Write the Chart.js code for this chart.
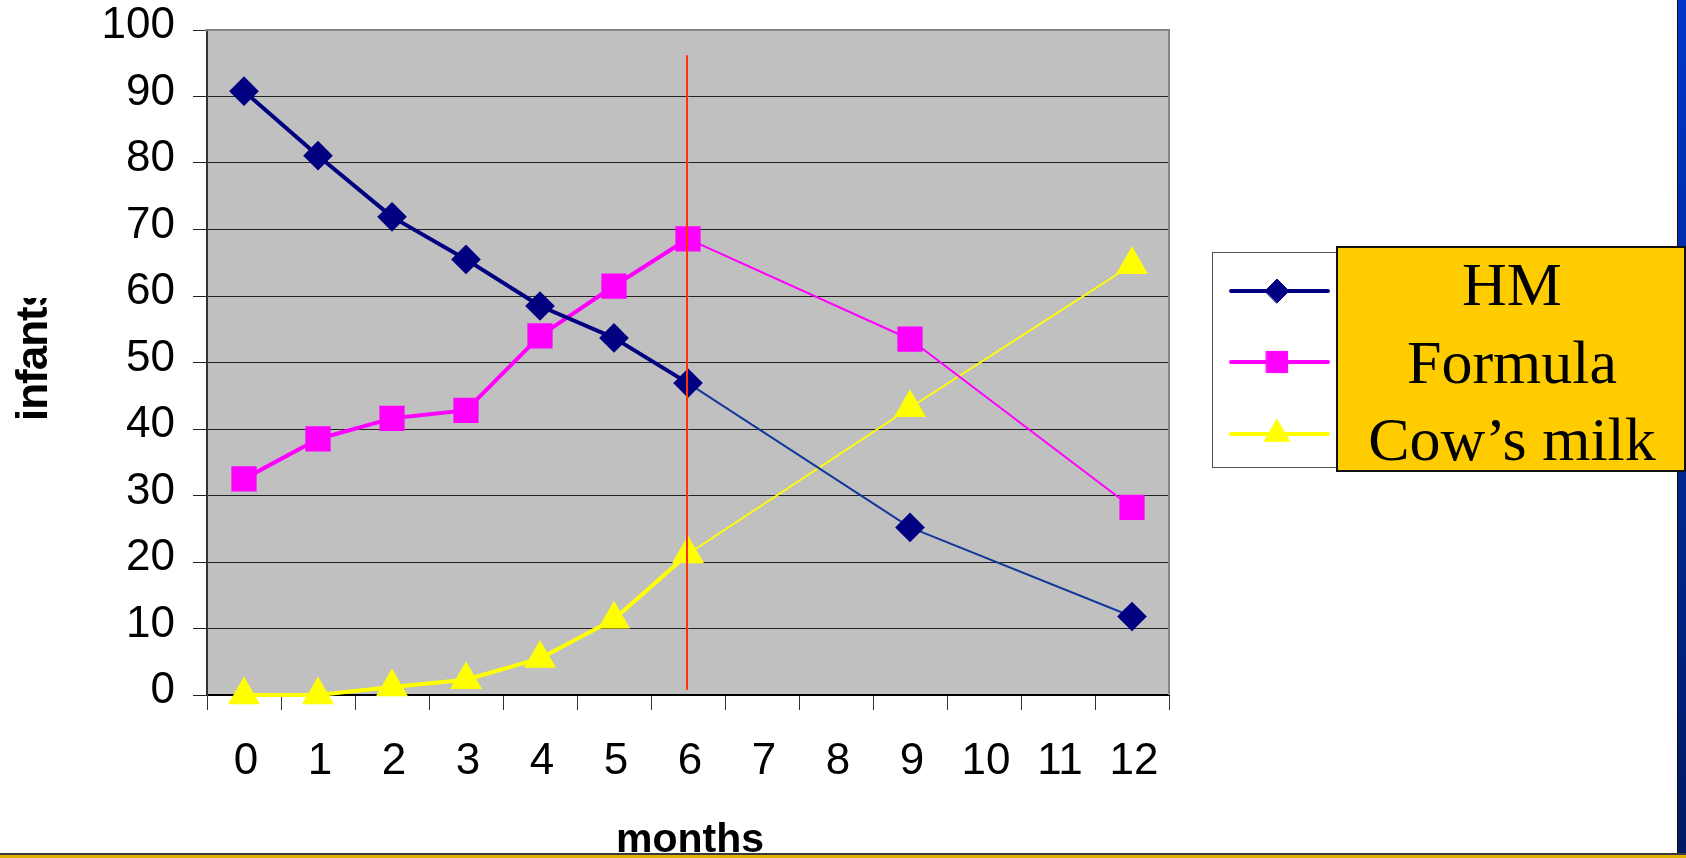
<!DOCTYPE html>
<html>
<head>
<meta charset="utf-8">
<script src="https://cdn.jsdelivr.net/npm/chart.js@4.4.1/dist/chart.umd.min.js"></script>
<style>
  html, body { margin: 0; padding: 0; background: #fff; overflow: hidden; }
  #wrap { position: relative; width: 1686px; height: 858px; }
  #bar { position: absolute; left: 1677px; top: 0; width: 9px; height: 858px;
         background: linear-gradient(#0036c8, #001a64); border-left: 1px solid #111; box-sizing: border-box; }
  #base { position: absolute; left: 0; top: 853px; width: 1686px; height: 5px;
          background: linear-gradient(#3a3a3a 0, #3a3a3a 2px, #e2b000 2px); }
  canvas { position: absolute; left: 0; top: 0; }
</style>
</head>
<body>
<div id="wrap">
  <div id="bar"></div>
  <div id="base"></div>
  <canvas id="c" width="1686" height="858"></canvas>
</div>
<script>
// Feeding type by infant age (months); months with no survey point are null
const months = ['0', '1', '2', '3', '4', '5', '6', '7', '8', '9', '10', '11', '12'];
const hm       = [90.8, 81.1, 71.9, 65.5, 58.5, 53.7, 46.9, null, null, 25.2, null, null, 11.8];
const formula  = [32.5, 38.5, 41.6, 42.8, 54.0, 61.5, 68.6, null, null, 53.5, null, null, 28.2];
const cowsMilk = [0, 0, 1.2, 2.3, 5.5, 11.4, 21.2, null, null, 43.2, null, null, 64.7];
const seriesNames = ['HM', 'Formula', 'Cow’s milk'];
const yMin = 0, yMax = 100, yStep = 10;
const xTitle = 'months';
const yTitle = 'infants';
// marker line at six months, spanning these values
const markerMonth = '6';
const markerRange = [96.2, 0.8];

const SANS = '"Liberation Sans", Arial, sans-serif';
const SERIF = '"Liberation Serif", "Times New Roman", serif';

// segments after the 6‑month point are drawn thinner
const thinAfter = 6;
function seg(thickColor, thinColor) {
  return {
    borderWidth: c => c.p0DataIndex >= thinAfter ? 2 : 4,
    borderColor: c => c.p0DataIndex >= thinAfter ? thinColor : thickColor
  };
}

const plotBackground = {
  id: 'plotBackground',
  beforeDraw(chart) {
    const { ctx, chartArea: a } = chart;
    ctx.save();
    ctx.fillStyle = '#c0c0c0';
    ctx.fillRect(a.left, a.top, a.right - a.left, a.bottom - a.top);
    ctx.restore();
  },
  beforeDatasetsDraw(chart) {
    const { ctx, chartArea: a } = chart;
    ctx.save();
    ctx.strokeStyle = '#858585';
    ctx.lineWidth = 2;
    ctx.beginPath();
    ctx.moveTo(a.left - 2, a.top);
    ctx.lineTo(a.right, a.top);
    ctx.lineTo(a.right, a.bottom);
    ctx.stroke();
    ctx.restore();
  }
};

const markerLine = {
  id: 'markerLine',
  afterDatasetsDraw(chart) {
    const { ctx, scales } = chart;
    const x = Math.round(scales.x.getPixelForValue(months.indexOf(markerMonth))) - 1;
    ctx.save();
    ctx.strokeStyle = '#ff3300';
    ctx.lineWidth = 2;
    ctx.beginPath();
    ctx.moveTo(x, scales.y.getPixelForValue(markerRange[0]));
    ctx.lineTo(x, scales.y.getPixelForValue(markerRange[1]));
    ctx.stroke();
    ctx.restore();
  }
};

function drawMarker(ctx, ds, x, y) {
  const opts = { pointStyle: ds.pointStyle, radius: ds.pointRadius, rotation: 0, borderWidth: 1 };
  ctx.fillStyle = ds.pointBackgroundColor;
  ctx.strokeStyle = ds.pointBorderColor;
  ctx.lineWidth = 1;
  Chart.helpers.drawPoint(ctx, opts, x, y);
}

const titlesAndLegend = {
  id: 'titlesAndLegend',
  afterDraw(chart) {
    const { ctx, chartArea: a } = chart;
    ctx.save();

    // axis titles
    ctx.fillStyle = '#000';
    ctx.font = 'bold 41px ' + SANS;
    ctx.textAlign = 'center';
    ctx.textBaseline = 'alphabetic';
    ctx.fillText(xTitle, (a.left + a.right) / 2 + 2, 852);

    ctx.save();
    ctx.beginPath();
    ctx.rect(0, 298, 120, 200);
    ctx.clip();
    ctx.translate(47, 421);
    ctx.rotate(-Math.PI / 2);
    ctx.font = 'bold 44px ' + SANS;
    ctx.letterSpacing = '-1px';
    ctx.textAlign = 'left';
    ctx.fillText(yTitle, 0, 0);
    ctx.restore();

    // legend frame with line samples
    const box = { l: 1212, t: 252, r: 1345, b: 467 };
    ctx.fillStyle = '#fff';
    ctx.fillRect(box.l, box.t, box.r - box.l, box.b - box.t);
    ctx.strokeStyle = '#555';
    ctx.lineWidth = 1;
    ctx.strokeRect(box.l + 0.5, box.t + 0.5, box.r - box.l, box.b - box.t);
    const rows = [291, 362, 434];
    chart.data.datasets.forEach((ds, i) => {
      ctx.strokeStyle = ds.borderColor;
      ctx.lineWidth = 4;
      ctx.lineCap = 'round';
      ctx.beginPath();
      ctx.moveTo(1231, rows[i]);
      ctx.lineTo(1328, rows[i]);
      ctx.stroke();
      drawMarker(ctx, ds, 1277, rows[i]);
    });

    // label panel
    const p = { l: 1337, t: 247, r: 1685, b: 471 };
    ctx.fillStyle = '#ffcc00';
    ctx.fillRect(p.l, p.t, p.r - p.l, p.b - p.t);
    ctx.strokeStyle = '#111';
    ctx.lineWidth = 2;
    ctx.strokeRect(p.l, p.t, p.r - p.l, p.b - p.t);
    ctx.fillStyle = '#000';
    ctx.font = '62px ' + SERIF;
    ctx.textAlign = 'center';
    ctx.textBaseline = 'alphabetic';
    const baselines = [305, 383, 460];
    chart.data.datasets.forEach((ds, i) => {
      ctx.fillText(ds.label, (p.l + p.r) / 2 + 1, baselines[i]);
    });
    ctx.restore();
  }
};

new Chart(document.getElementById('c'), {
  type: 'line',
  data: {
    labels: months,
    datasets: [
      {
        label: seriesNames[0], data: hm,
        borderColor: '#000080', pointBackgroundColor: '#000080', pointBorderColor: '#000080',
        pointStyle: 'rectRot', pointRadius: 12, borderWidth: 4, clip: false,
        segment: seg('#000080', '#12399a')
      },
      {
        label: seriesNames[1], data: formula,
        borderColor: '#ff00ff', pointBackgroundColor: '#ff00ff', pointBorderColor: '#ff00ff',
        pointStyle: 'rect', pointRadius: 15, borderWidth: 4, clip: false,
        segment: seg('#ff00ff', '#ff00ff')
      },
      {
        label: seriesNames[2], data: cowsMilk,
        borderColor: '#ffff00', pointBackgroundColor: '#ffff00', pointBorderColor: '#ffff00',
        pointStyle: 'triangle', pointRadius: 14.5, borderWidth: 4, clip: false,
        segment: seg('#ffff00', '#ffff00')
      }
    ]
  },
  options: {
    responsive: false,
    animation: false,
    devicePixelRatio: 1,
    spanGaps: true,
    elements: { line: { tension: 0, borderJoinStyle: 'round', borderCapStyle: 'round' },
                point: { hoverRadius: 12 } },
    layout: { padding: { left: 0, top: 30, right: 517, bottom: 0 } },
    plugins: { legend: { display: false }, tooltip: { enabled: false } },
    scales: {
      x: {
        type: 'category',
        offset: true,
        grid: { offset: true, drawOnChartArea: false, drawTicks: true, tickLength: 15, color: '#333', lineWidth: 1 },
        border: { display: true, color: '#000', width: 2 },
        ticks: { color: '#000', font: { family: SANS, size: 44 }, padding: 25, labelOffset: 2, maxRotation: 0, autoSkip: false },
        afterFit(s) { s.height = 163; s.paddingLeft = 0; s.paddingRight = 0; }
      },
      y: {
        min: yMin, max: yMax,
        grid: { color: '#222', lineWidth: 1, tickLength: 14, drawTicks: true },
        border: { display: true, color: '#333', width: 2 },
        ticks: { stepSize: yStep, color: '#000', font: { family: SANS, size: 44 }, padding: 18, labelOffset: -4 },
        afterFit(s) { s.width = 207; s.paddingTop = 0; s.paddingBottom = 0; }
      }
    }
  },
  plugins: [plotBackground, markerLine, titlesAndLegend]
});
</script>
</body>
</html>
